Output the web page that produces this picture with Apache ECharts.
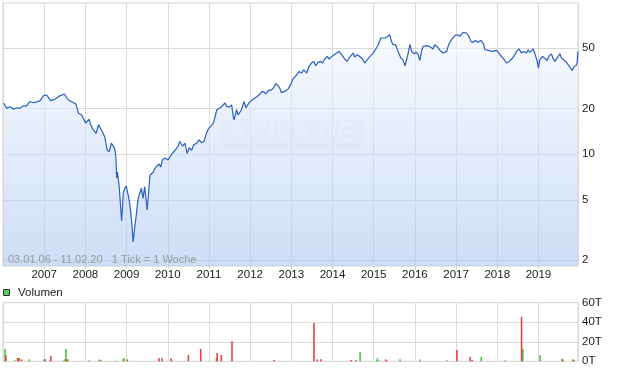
<!DOCTYPE html>
<html><head><meta charset="utf-8">
<script src="https://cdn.jsdelivr.net/npm/echarts@6/dist/echarts.min.js"></script>
<style>html,body{margin:0;padding:0;background:#fff}#c{width:620px;height:371px}</style>
</head><body><div id="c"></div>
<script>
// weekly sample positions as decimal years
const weeks = [
2006.01,2006.09,2006.17,2006.25,2006.34,2006.41,2006.49,2006.57,2006.65,2006.73,
2006.82,2006.90,2006.98,2007.06,2007.16,2007.26,2007.38,2007.49,2007.58,2007.70,
2007.77,2007.83,2007.91,2007.95,2008.01,2008.09,2008.13,2008.18,2008.21,2008.26,
2008.32,2008.39,2008.47,2008.53,2008.58,2008.63,2008.68,2008.71,2008.74,2008.76,
2008.78,2008.82,2008.88,2008.92,2008.96,2008.99,2009.04,2009.08,2009.12,2009.16,
2009.20,2009.24,2009.28,2009.32,2009.36,2009.40,2009.44,2009.50,2009.57,2009.61,
2009.65,2009.69,2009.74,2009.79,2009.83,2009.87,2009.93,2009.97,2010.01,2010.08,
2010.15,2010.20,2010.25,2010.29,2010.36,2010.42,2010.47,2010.52,2010.58,2010.63,
2010.70,2010.76,2010.82,2010.88,2010.94,2010.98,2011.02,2011.11,2011.19,2011.27,
2011.39,2011.43,2011.49,2011.55,2011.59,2011.61,2011.67,2011.71,2011.79,2011.85,
2011.90,2011.93,2011.98,2012.01,2012.07,2012.16,2012.22,2012.28,2012.33,2012.38,
2012.44,2012.52,2012.58,2012.62,2012.68,2012.72,2012.76,2012.80,2012.87,2012.92,
2012.98,2013.04,2013.13,2013.19,2013.25,2013.30,2013.37,2013.43,2013.49,2013.55,
2013.59,2013.65,2013.71,2013.76,2013.81,2013.87,2013.92,2013.98,2014.02,2014.10,
2014.16,2014.22,2014.30,2014.35,2014.42,2014.50,2014.54,2014.60,2014.66,2014.73,
2014.78,2014.84,2014.91,2014.99,2015.05,2015.11,2015.17,2015.21,2015.27,2015.32,
2015.39,2015.43,2015.47,2015.53,2015.59,2015.66,2015.71,2015.76,2015.82,2015.88,
2015.92,2015.98,2016.04,2016.08,2016.12,2016.16,2016.20,2016.28,2016.36,2016.44,
2016.48,2016.55,2016.61,2016.69,2016.77,2016.82,2016.89,2016.97,2017.03,2017.09,
2017.17,2017.21,2017.25,2017.31,2017.36,2017.41,2017.47,2017.53,2017.60,2017.66,
2017.70,2017.78,2017.90,2017.98,2018.04,2018.10,2018.16,2018.22,2018.29,2018.35,
2018.40,2018.47,2018.53,2018.59,2018.64,2018.71,2018.75,2018.79,2018.83,2018.87,
2018.91,2018.97,2019.00,2019.03,2019.10,2019.15,2019.21,2019.26,2019.32,2019.35,
2019.40,2019.45,2019.52,2019.56,2019.61,2019.68,2019.72,2019.78,2019.82,2019.86,
2019.91,2019.94,2019.96
];
const prices = [
21.7,20.1,20.5,19.8,20.2,20.0,20.8,20.8,22.2,21.8,
22.1,22.5,24.2,24.5,22.5,23.0,24.2,24.9,22.8,21.9,
21.4,18.6,18.1,18.3,16.0,17.0,15.6,14.6,14.8,13.7,
15.6,14.4,13.0,10.6,10.4,11.8,11.3,10.9,9.6,6.95,
7.62,6.16,3.62,5.54,5.97,6.16,5.37,4.68,3.67,2.64,
3.32,4.07,5.11,4.98,5.95,5.11,6.09,4.28,7.28,7.47,
7.62,8.06,8.35,8.61,8.22,9.15,9.43,9.72,9.15,9.87,
10.4,10.8,11.3,12.1,11.3,11.8,10.1,11.0,10.6,11.5,
11.8,12.4,11.9,12.1,13.7,14.6,14.4,16.0,19.6,20.1,
21.7,20.6,20.4,21.1,17.7,16.8,19.6,18.1,19.6,22.2,
20.2,19.6,21.9,22.5,23.0,23.9,24.6,25.8,25.8,24.9,
26.2,26.5,27.6,29.1,28.2,27.2,25.4,24.9,26.2,26.8,
28.6,31.2,33.3,35.0,34.2,35.9,34.2,37.8,39.8,40.8,
38.2,40.2,40.8,39.8,42.3,44.0,42.3,44.0,44.5,46.3,
47.5,45.2,42.3,40.8,43.6,46.3,43.6,45.2,44.0,42.3,
39.8,41.8,44.0,46.3,49.3,52.6,58.2,59.7,58.2,59.1,
61.2,55.3,52.6,52.6,47.5,42.9,41.8,38.2,44.0,52.6,
47.5,45.8,46.8,45.2,41.4,47.5,51.2,51.8,51.2,49.3,
52.6,50.8,48.2,46.3,47.5,52.6,56.7,60.3,61.2,59.7,
63.4,64.4,62.8,59.7,55.3,54.5,56.1,54.5,56.1,53.4,
48.7,48.2,47.5,48.2,46.3,44.0,42.3,39.8,40.8,42.3,
44.0,47.5,49.3,46.3,47.5,46.3,48.7,46.8,47.5,49.3,
46.3,40.8,36.9,41.8,44.0,42.9,41.4,44.5,45.6,42.9,
40.8,42.9,45.8,42.9,41.8,40.2,38.8,36.9,35.6,37.8,
38.2,40.2,47.5
];
const priceTicks = [2, 5, 10, 20, 50];
const volTicks = [0, 20, 40, 60];
// volume (thousands) on up weeks (green) and down weeks (red)
const volUpWeeks = [2006.05,2006.29,2006.35,2006.64,2007.00,2007.48,2007.50,2007.53,2008.34,2008.92,2008.94,2010.11,2011.18,2014.67,2015.07,2015.09,2015.13,2015.64,2016.13,2016.78,2017.61,2018.62,2019.04,2019.57,2019.83];
const volUp = [12.6,1.0,3.4,2.0,2.0,1.0,2.0,12.7,2.0,3.0,3.0,0.8,3.0,9.6,0.8,3.0,0.8,2.0,2.0,1.0,4.4,12.6,6.5,2.5,2.0];
const volDownWeeks = [2006.07,2006.37,2006.39,2006.45,2007.02,2007.14,2007.16,2007.54,2007.57,2008.09,2008.38,2008.74,2009.02,2009.79,2009.86,2010.08,2010.50,2010.80,2011.20,2011.30,2011.56,2012.58,2013.55,2013.63,2013.72,2014.45,2014.57,2015.29,2015.33,2017.02,2017.34,2017.39,2018.19,2018.59,2019.59,2019.86];
const volDown = [6.5,3.4,3.4,2.0,2.0,0.8,5.5,2.0,2.0,0.8,1.0,0.5,2.0,3.0,3.0,3.0,6.5,12.6,8.6,6.5,20.8,1.4,39.3,2.0,2.0,1.4,1.4,2.0,0.8,11.6,4.4,1.4,0.8,45.5,2.0,1.5];
const xMin = 2006, xMax = 2019.96;

const FONT = '"Liberation Sans", Arial, sans-serif';
const chart = echarts.init(document.getElementById('c'), null, {renderer: 'canvas'});
const xCommon = {
  type: 'value', min: xMin, max: xMax, interval: 1,
  axisLine: {show: false},
  splitLine: {show: true, lineStyle: {color: '#dadada', width: 1}}
};
chart.setOption({
  animation: false,
  textStyle: {fontFamily: FONT},
  grid: [
    {left: 3, top: 3, width: 575, height: 263, show: true, borderColor: '#d2d2d2', borderWidth: 1},
    {left: 3, top: 302.7, width: 575, height: 58.6, show: true, borderColor: '#d2d2d2', borderWidth: 1}
  ],
  xAxis: [
    Object.assign({}, xCommon, {gridIndex: 0,
      axisTick: {show: true, length: 3, lineStyle: {color: '#cfcfcf'}},
      axisLabel: {show: true, margin: 3, color: '#1a1a1a', fontSize: 11.5, fontFamily: FONT,
        showMinLabel: false, showMaxLabel: false,
        formatter: v => (Math.abs(v - Math.round(v)) < 1e-6 ? String(Math.round(v)) : '')}}),
    Object.assign({}, xCommon, {gridIndex: 1, axisTick: {show: false}, axisLabel: {show: false}})
  ],
  yAxis: [
    {type: 'log', gridIndex: 0, position: 'right', min: 1.83, max: 99, logBase: 10,
      axisLine: {show: false},
      axisTick: {show: false, customValues: priceTicks},
      axisLabel: {customValues: priceTicks, margin: 4, color: '#1a1a1a', fontSize: 11.5, fontFamily: FONT,
        formatter: v => String(v)},
      splitLine: {show: true, lineStyle: {color: '#dadada', width: 1}}},
    {type: 'value', gridIndex: 1, position: 'right', min: 0, max: 60, interval: 20,
      axisLine: {show: false}, axisTick: {show: false},
      axisLabel: {margin: 4, color: '#1a1a1a', fontSize: 11.5, fontFamily: FONT, formatter: v => v + 'T'},
      splitLine: {show: true, lineStyle: {color: '#dadada', width: 1}}}
  ],
  series: [
    {type: 'line', name: 'Kurs', xAxisIndex: 0, yAxisIndex: 0,
      data: weeks.map((w, i) => [w, prices[i]]),
      showSymbol: false, symbol: 'none', sampling: null,
      lineStyle: {color: '#2a5fc4', width: 1.2},
      areaStyle: {origin: 'start', color: {type: 'linear', x: 0, y: 0, x2: 0, y2: 1,
        colorStops: [{offset: 0, color: 'rgba(244,248,254,0.85)'}, {offset: 1, color: 'rgba(173,199,242,0.85)'}]}}},
    {type: 'bar', name: 'Volumen', xAxisIndex: 1, yAxisIndex: 1, barWidth: 1.6, barGap: '-100%',
      data: volUpWeeks.map((w, i) => [w, volUp[i]]), itemStyle: {color: '#3fcf3f'}},
    {type: 'bar', name: 'Volumen ab', xAxisIndex: 1, yAxisIndex: 1, barWidth: 1.6, barGap: '-100%',
      data: volDownWeeks.map((w, i) => [w, volDown[i]]), itemStyle: {color: '#e04444'}}
  ],
  graphic: [
    {type: 'group', left: 218, top: 119, z: 10, children: [
      {type: 'rect', shape: {x: 0, y: 0, width: 146, height: 30, r: 8},
        style: {fill: 'rgba(150,165,190,0.10)'}},
      {type: 'text', x: 73, y: 15, style: {text: 'ARIVA.DE', fill: 'rgba(255,255,255,0.8)',
        font: 'italic bold 27px ' + FONT, textAlign: 'center', textVerticalAlign: 'middle'}}
    ]},
    {type: 'text', left: 8, top: 254, z: 10, style: {text: '03.01.06 - 11.02.20   1 Tick = 1 Woche',
      fill: '#9a9a9a', font: '11px ' + FONT}},
    {type: 'rect', left: 3, top: 289, z: 10, shape: {width: 6, height: 6},
      style: {fill: '#55d055', stroke: '#333', lineWidth: 1}},
    {type: 'text', left: 18, top: 287, z: 10, style: {text: 'Volumen', fill: '#1a1a1a', font: '11.5px ' + FONT}}
  ]
});
</script>
</body></html>
